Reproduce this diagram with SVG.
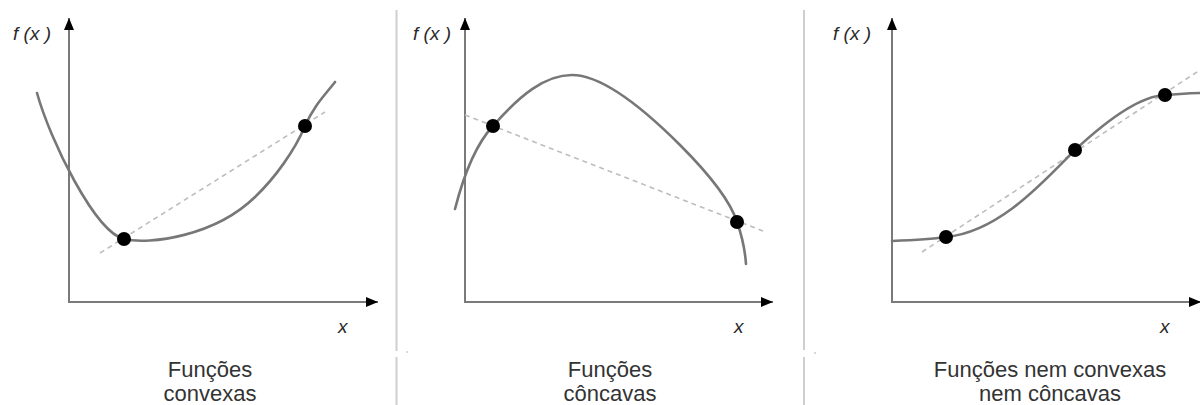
<svg xmlns="http://www.w3.org/2000/svg" width="1200" height="405" viewBox="0 0 1200 405">
  <style>
    .axis { stroke: #7a7a7a; stroke-width: 2; fill: none; }
    .curve { stroke: #777; stroke-width: 2.6; fill: none; stroke-linecap: round; }
    .chord { stroke: #bdbdbd; stroke-width: 1.6; fill: none; stroke-dasharray: 5 4; }
    .dot { fill: #000; }
    .div { stroke: #cfcfcf; stroke-width: 2; }
    .lab { font-family: "Liberation Sans", Arial, sans-serif; font-style: italic; font-size: 19px; fill: #2a2a2a; }
    .cap { font-family: "Liberation Sans", Arial, sans-serif; font-size: 22px; fill: #333; text-anchor: middle; }
  </style>
  <defs>
    <marker id="arr" viewBox="0 0 12 10" refX="12" refY="5" markerWidth="12" markerHeight="10" markerUnits="userSpaceOnUse" orient="auto">
      <path d="M0,0 L12,5 L0,10 Z" fill="#000"/>
    </marker>
  </defs>
  <rect width="1200" height="405" fill="#fff"/>

  <g id="dividers">
    <line class="div" x1="396.5" y1="10" x2="396.5" y2="351"/>
    <line class="div" x1="396.5" y1="357" x2="396.5" y2="405"/>
    <line class="div" x1="804" y1="10" x2="804" y2="350"/>
    <line class="div" x1="804" y1="357" x2="804" y2="405"/>
    <circle cx="407" cy="352" r="1" fill="#ccc"/>
    <circle cx="815" cy="353" r="1" fill="#ccc"/>
  </g>

  <g id="panel-convexas">
    <line class="axis" x1="69" y1="302" x2="69" y2="18" marker-end="url(#arr)"/>
    <line class="axis" x1="68" y1="302" x2="378" y2="302" marker-end="url(#arr)"/>
    <text class="lab" x="13" y="40">f (x )</text>
    <text class="lab" x="338" y="333">x</text>
    <path class="chord" d="M100,253 L325,112"/>
    <path class="curve" d="M37,93 C50,140 95,232 124,239 C150,245 215,236 255,197 C275,178 295,150 305,126 C315,104 325,95 335,82"/>
    <circle class="dot" cx="124" cy="239" r="7"/>
    <circle class="dot" cx="305" cy="126" r="7"/>
    <text class="cap" x="210" y="377">Funções</text>
    <text class="cap" x="210" y="401">convexas</text>
  </g>

  <g id="panel-concavas">
    <line class="axis" x1="465" y1="302" x2="465" y2="18" marker-end="url(#arr)"/>
    <line class="axis" x1="464" y1="302" x2="773" y2="302" marker-end="url(#arr)"/>
    <text class="lab" x="413" y="40">f (x )</text>
    <text class="lab" x="734" y="333">x</text>
    <path class="chord" d="M465,115 L763,231"/>
    <path class="curve" d="M455,209 C465,170 478,142 493,126 C520,95 545,75 572,75 C600,75 640,105 680,145 C710,175 730,200 737,222 C742,236 745,250 746,264"/>
    <circle class="dot" cx="493" cy="126" r="7"/>
    <circle class="dot" cx="737" cy="222" r="7"/>
    <text class="cap" x="610" y="377">Funções</text>
    <text class="cap" x="610" y="401">côncavas</text>
  </g>

  <g id="panel-nem">
    <line class="axis" x1="892" y1="302" x2="892" y2="18" marker-end="url(#arr)"/>
    <line class="axis" x1="891" y1="302" x2="1201" y2="302" marker-end="url(#arr)"/>
    <text class="lab" x="833" y="40">f (x )</text>
    <text class="lab" x="1160" y="333">x</text>
    <path class="chord" d="M922,252 L1200,70"/>
    <path class="curve" d="M892,241 C915,240 932,239 946,237 C1000,232 1045,180 1075,150 C1105,122 1140,96 1165,95 C1180,94 1190,93 1200,93"/>
    <circle class="dot" cx="946" cy="237" r="7"/>
    <circle class="dot" cx="1075" cy="150" r="7"/>
    <circle class="dot" cx="1165" cy="95" r="7"/>
    <text class="cap" x="1050" y="377">Funções nem convexas</text>
    <text class="cap" x="1050" y="401">nem côncavas</text>
  </g>
</svg>
